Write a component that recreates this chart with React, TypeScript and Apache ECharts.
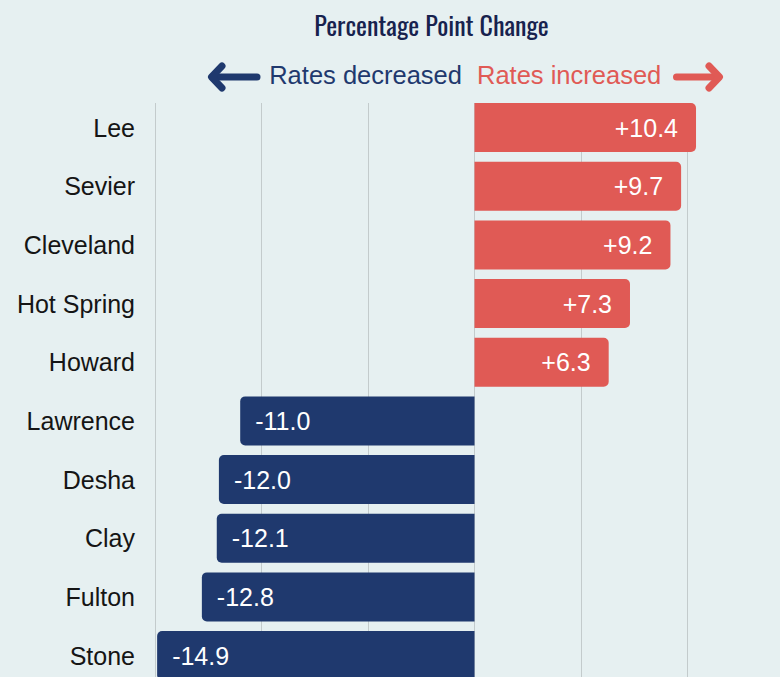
import React, { useEffect, useRef } from "react";
import * as echarts from "echarts";

const counties = ["Lee", "Sevier", "Cleveland", "Hot Spring", "Howard", "Lawrence", "Desha", "Clay", "Fulton", "Stone"];
const changes = [10.4, 9.7, 9.2, 7.3, 6.3, -11.0, -12.0, -12.1, -12.8, -14.9];
const axisMin = -15;
const axisMax = 15;
const axisStep = 5;

const RED = "#E05A55";
const NAVY = "#1F396E";
const BG = "#E6F0F1";
const TITLE = "#17224E";
const FONT = "'Liberation Sans', Arial, Helvetica, sans-serif";
const COND = "Oswald, 'Liberation Sans Narrow', 'DejaVu Sans Condensed', 'Roboto Condensed', sans-serif";

export default function App() {
  const ref = useRef<HTMLDivElement>(null);
  useEffect(() => {
    if (!ref.current) return;
    const chart = echarts.init(ref.current, undefined, { renderer: "svg" });
    const fmt = (v: number) => (v > 0 ? "+" : "") + v.toFixed(1);
    chart.setOption({
      animation: false,
      backgroundColor: BG,
      grid: [
        { left: 155, width: 639, top: 103, height: 590 },
        { left: 155, width: 639, top: 98.2, height: 586.7 },
      ],
      xAxis: [
        {
          gridIndex: 0, type: "value", min: axisMin, max: axisMax, interval: axisStep,
          axisLabel: { show: false }, axisLine: { show: false }, axisTick: { show: false },
          splitLine: { show: true, lineStyle: { color: "#C3CBCC", width: 1 } },
        },
        {
          gridIndex: 1, type: "value", min: axisMin, max: axisMax, interval: axisStep,
          axisLabel: { show: false }, axisLine: { show: false }, axisTick: { show: false },
          splitLine: { show: false },
        },
      ],
      yAxis: [
        { gridIndex: 0, type: "value", min: 0, max: 1, show: false },
        {
          gridIndex: 1, type: "category", data: counties, inverse: true,
          axisLine: { show: false }, axisTick: { show: false },
          axisLabel: { fontSize: 25, color: "#151515", fontFamily: FONT, margin: 20 },
        },
      ],
      series: [
        {
          type: "bar",
          xAxisIndex: 1,
          yAxisIndex: 1,
          barWidth: 49,
          data: changes.map((v) => ({
            value: v,
            itemStyle: {
              color: v >= 0 ? RED : NAVY,
              borderRadius: v >= 0 ? [0, 5, 5, 0] : [5, 0, 0, 5],
            },
            label: {
              show: true,
              position: v >= 0 ? "insideRight" : "insideLeft",
              distance: v >= 0 ? 18 : 15,
              formatter: () => fmt(v),
              color: "#FFFFFF",
              fontSize: 25,
              fontFamily: FONT,
            },
          })),
        },
      ],
      graphic: [
        {
          type: "text", x: 431.5, y: 24,
          style: { text: "Percentage Point Change", fill: TITLE, font: `26px ${COND}`, textAlign: "center", textVerticalAlign: "middle" },
        },
        {
          type: "text", x: 462, y: 75,
          style: { text: "Rates decreased", fill: NAVY, font: `25.5px ${FONT}`, textAlign: "right", textVerticalAlign: "middle" },
        },
        {
          type: "text", x: 477, y: 75,
          style: { text: "Rates increased", fill: RED, font: `25.5px ${FONT}`, textAlign: "left", textVerticalAlign: "middle" },
        },
        {
          type: "polyline", shape: { points: [[257, 77], [213, 77]] },
          style: { stroke: NAVY, lineWidth: 7, lineCap: "round", lineJoin: "round", fill: "none" },
        },
        {
          type: "polyline", shape: { points: [[222, 66], [211.5, 77], [222, 88]] },
          style: { stroke: NAVY, lineWidth: 7, lineCap: "round", lineJoin: "round", fill: "none" },
        },
        {
          type: "polyline", shape: { points: [[676.5, 77], [717, 77]] },
          style: { stroke: RED, lineWidth: 7, lineCap: "round", lineJoin: "round", fill: "none" },
        },
        {
          type: "polyline", shape: { points: [[709, 66], [719.5, 77], [709, 88]] },
          style: { stroke: RED, lineWidth: 7, lineCap: "round", lineJoin: "round", fill: "none" },
        },
      ],
    });
    return () => chart.dispose();
  }, []);
  return (
    <div style={{ position: "fixed", left: 0, top: 0, width: 780, height: 677, overflow: "hidden", background: BG }}>
      <div ref={ref} style={{ width: 800, height: 700 }} />
    </div>
  );
}
